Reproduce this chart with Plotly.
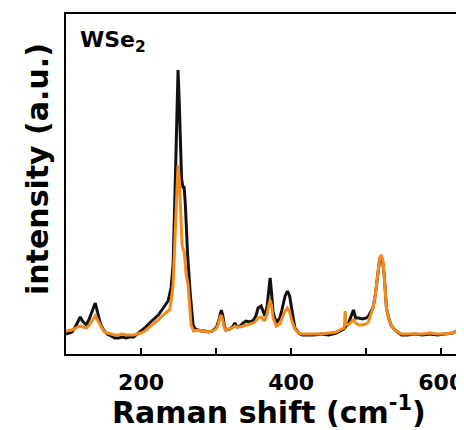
import plotly.graph_objects as go

# Raman shift (cm^-1) and intensity (a.u.)
black_x = [100, 108, 113, 116, 119, 122, 127, 131, 135, 139, 142, 146, 150, 155, 160, 165, 170, 175, 180, 185,
           190, 195, 200, 205, 210, 215, 220, 223, 228, 232, 236, 240, 242.7, 245.3, 247.5, 249.3, 251, 252.5,
           254, 256, 257.3, 259, 260, 262, 265.3, 267, 269.3, 272, 276, 280, 285, 290, 295, 300, 303, 305, 307,
           309, 311, 313, 318, 322, 325, 328, 332, 336, 340, 345, 350, 353, 356, 360, 363, 365, 368, 370, 372,
           374, 376, 380, 385, 388, 392, 395, 398, 401, 405, 410, 415, 420, 430, 440, 450, 460, 465, 470, 472,
           476, 480, 483, 486, 490, 495, 500, 503, 506, 509, 512, 516, 518, 520, 522, 524, 527, 530, 533, 538,
           547, 555, 565, 575, 585, 595, 605, 615, 623, 628, 635, 641]
black_y = [20, 22, 28, 33, 37, 33, 29, 35, 44, 51, 42, 30, 24, 20, 18, 16, 16, 17, 16, 17,
           17, 20, 23, 26, 30, 34, 37, 39, 44, 48, 53, 66, 89, 163, 230, 284, 250, 213,
           175, 166, 168, 150, 129, 100, 63, 45, 29, 25, 24, 23, 23, 22, 23, 26, 32, 40, 44,
           38, 28, 24, 25, 27, 31, 27, 28, 31, 33, 32, 34, 38, 46, 48, 41, 38, 48, 65, 76,
           60, 42, 31, 36, 45, 58, 63, 58, 44, 26, 21, 19, 19, 19, 20, 19, 21, 23, 25, 27,
           30, 38, 44, 36, 36, 35, 36, 38, 42, 46, 58, 86, 95, 98, 92, 79, 46, 36, 29, 24,
           19, 19, 20, 19, 20, 19, 20, 21, 24, 21, 20, 20]

orange_x = [100, 108, 113, 116, 119, 122, 127, 131, 135, 139, 142, 146, 150, 155, 160, 165, 170, 175, 180, 185,
            190, 195, 200, 205, 210, 215, 220, 223, 228, 232, 236, 238, 240, 242.7, 245.3, 247.5, 249.3, 251,
            252, 253, 254.7, 256, 257.3, 259, 260, 262.7, 264.5, 266.7, 270, 276, 280, 285, 290, 295, 300, 303,
            305, 307, 309, 311, 313, 318, 322, 325, 328, 332, 336, 340, 345, 350, 353, 356, 360, 363, 365, 368,
            370, 372, 374, 376, 380, 385, 388, 392, 395, 398, 401, 405, 410, 415, 420, 430, 440, 450, 460, 465,
            470, 471, 472, 473, 476, 480, 483, 486, 490, 495, 500, 503, 506, 509, 512, 516, 518, 520, 522, 524,
            527, 530, 533, 538, 547, 555, 565, 575, 585, 595, 605, 615, 623, 628, 635, 641]
orange_y = [23, 24, 26, 27, 28, 27, 26, 29, 34, 38, 34, 28, 23, 21, 20, 19, 19, 20, 19, 19,
            19, 20, 21, 23, 26, 29, 32, 34, 38, 41, 43, 44, 52, 69, 113, 160, 189, 175,
            156, 130, 109, 105, 103, 90, 80, 69, 50, 29, 23, 24, 23, 23, 22, 23, 25, 30,
            36, 39, 33, 26, 24, 25, 26, 28, 27, 27, 28, 29, 30, 31, 33, 36, 37, 34, 34, 40,
            48, 54, 48, 36, 28, 30, 36, 43, 46, 42, 33, 25, 21, 20, 20, 20, 20, 21, 22, 24,
            26, 28, 43, 30, 29, 32, 34, 31, 29, 29, 30, 32, 38, 46, 58, 86, 96, 99, 94, 79,
            46, 36, 29, 24, 20, 20, 20, 20, 21, 20, 20, 21, 24, 21, 21, 21]

x_tickvals = [200, 400, 600]
x_ticktext = ["200", "400", "600"]

FONT = "DejaVu Sans, Liberation Sans, Arial, sans-serif"

fig = go.Figure()
fig.add_trace(go.Scatter(x=black_x, y=black_y, mode="lines",
                         line=dict(color="#111111", width=3), showlegend=False))
fig.add_trace(go.Scatter(x=orange_x, y=orange_y, mode="lines",
                         line=dict(color="#F48A1C", width=3), showlegend=False))

fig.update_layout(
    width=464, height=430,
    margin=dict(l=58, r=0, t=6, b=84),
    paper_bgcolor="white", plot_bgcolor="white",
    font=dict(family=FONT, color="black"),
    xaxis=dict(range=[100, 641], tickvals=x_tickvals, ticktext=x_ticktext,
               ticks="inside", ticklen=6, tickwidth=2, tickcolor="black",
               ticklabelstandoff=8,
               minor=dict(dtick=100, tick0=0, ticks="inside", ticklen=6, tickwidth=2,
                          tickcolor="black", showgrid=False),
               showline=True, linecolor="black", linewidth=2, mirror=True,
               showgrid=False, zeroline=False,
               tickfont=dict(family=FONT, size=22, weight="bold", color="black")),
    yaxis=dict(range=[0, 340], showticklabels=False, ticks="",
               showline=True, linecolor="black", linewidth=2, mirror=False,
               showgrid=False, zeroline=False),
    annotations=[
        dict(text="WSe<sub>2</sub>", xref="paper", yref="paper", x=0.03, y=0.968,
             xanchor="left", yanchor="top", showarrow=False,
             font=dict(family=FONT, size=22, weight="bold", color="black")),
        dict(text="Raman shift (cm<sup>-1</sup>)", xref="paper", yref="paper",
             x=0.5, y=-0.165, xanchor="center", yanchor="middle", showarrow=False,
             font=dict(family=FONT, size=30, weight="bold", color="black")),
        dict(text="intensity (a.u.)", xref="paper", yref="paper", textangle=-90,
             x=-0.0714, y=0.544, xanchor="center", yanchor="middle", showarrow=False,
             font=dict(family=FONT, size=30, weight="bold", color="black")),
    ],
)

fig.write_html("out.html")
